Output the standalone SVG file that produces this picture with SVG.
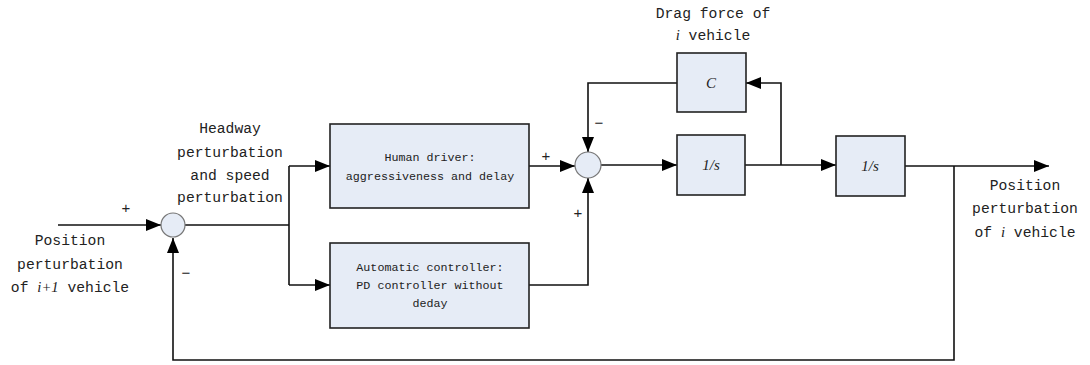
<svg xmlns="http://www.w3.org/2000/svg" width="1090" height="365" viewBox="0 0 1090 365">
<defs>
<marker id="arr" markerUnits="userSpaceOnUse" markerWidth="16" markerHeight="12" refX="15" refY="6" orient="auto">
<path d="M0,0 L15,6 L0,12 z" fill="#000"/>
</marker>
<style>
.box{fill:#e6ecf6;stroke:#222;stroke-width:1.6}
.sum{fill:#e6ecf6;stroke:#777;stroke-width:1.2}
.ln{fill:none;stroke:#111;stroke-width:1.6}
.ar{marker-end:url(#arr)}
.t{font-family:"Liberation Mono",monospace;font-size:14.7px;fill:#222;text-anchor:middle}
.bt{font-family:"Liberation Mono",monospace;font-size:11.7px;fill:#222;text-anchor:middle}
.it{font-family:"Liberation Serif",serif;font-style:italic}
.op{font-family:"Liberation Sans",sans-serif;font-size:15px;fill:#222;text-anchor:middle}
</style>
</defs>
<rect width="1090" height="365" fill="#fff"/>
<g id="connectors">
<path class="ln ar" d="M58,225 H161"/>
<path class="ln" d="M185,225 H289 M289,166 V285"/>
<path class="ln ar" d="M289,166 H330"/>
<path class="ln ar" d="M289,285 H330"/>
<path class="ln ar" d="M529,166 H575"/>
<path class="ln ar" d="M529,285 H588 V178"/>
<path class="ln ar" d="M601,165 H677"/>
<path class="ln ar" d="M745,165 H836"/>
<path class="ln ar" d="M781,165 V83 H746"/>
<path class="ln ar" d="M677,83 H588 V152"/>
<path class="ln ar" d="M905,166 H1049"/>
<path class="ln ar" d="M954,166 V360 H173 V238"/>
</g>
<g id="sum1"><circle class="sum" cx="173" cy="225" r="12"/></g>
<g id="sum2"><circle class="sum" cx="588" cy="165" r="13"/></g>
<g id="human">
<rect class="box" x="330" y="124" width="199" height="84"/>
<text class="bt" x="430" y="161">Human driver:</text>
<text class="bt" x="430" y="180">aggressiveness and delay</text>
</g>
<g id="auto">
<rect class="box" x="330" y="243" width="199" height="85"/>
<text class="bt" x="430" y="271">Automatic controller:</text>
<text class="bt" x="430" y="289">PD controller without</text>
<text class="bt" x="430" y="307">deday</text>
</g>
<g id="c">
<rect class="box" x="677" y="53" width="69" height="59"/>
<text class="it" x="711" y="88" font-size="15" text-anchor="middle" fill="#222">C</text>
</g>
<g id="int1">
<rect class="box" x="677" y="135" width="68" height="60"/>
<text class="it" x="711" y="170" font-size="15" text-anchor="middle" fill="#222">1/s</text>
</g>
<g id="int2">
<rect class="box" x="836" y="136" width="69" height="60"/>
<text class="it" x="870" y="171" font-size="15" text-anchor="middle" fill="#222">1/s</text>
</g>
<g id="labels">
<text class="t" x="230" y="133">Headway</text>
<text class="t" x="230" y="157">perturbation</text>
<text class="t" x="230" y="180">and speed</text>
<text class="t" x="230" y="202">perturbation</text>
<text class="t" x="70" y="245">Position</text>
<text class="t" x="70" y="269">perturbation</text>
<text class="t" x="70" y="292">of <tspan class="it">i+1</tspan> vehicle</text>
<text class="t" x="1025" y="190">Position</text>
<text class="t" x="1025" y="213">perturbation</text>
<text class="t" x="1025" y="237">of <tspan class="it">i</tspan> vehicle</text>
<text class="t" x="713" y="18">Drag force of</text>
<text class="t" x="713" y="40"><tspan class="it">i</tspan> vehicle</text>
<text class="op" x="126" y="213">+</text>
<text class="op" x="186" y="278">−</text>
<text class="op" x="546" y="161">+</text>
<text class="op" x="599" y="128">−</text>
<text class="op" x="578" y="218">+</text>
</g>
</svg>
